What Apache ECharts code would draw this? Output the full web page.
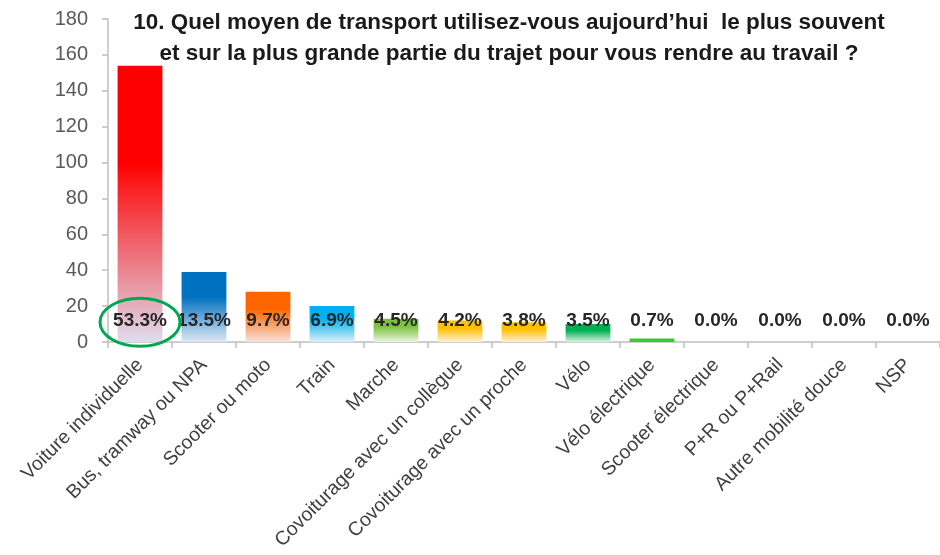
<!DOCTYPE html>
<html>
<head>
<meta charset="utf-8">
<script src="https://cdn.jsdelivr.net/npm/echarts@6/dist/echarts.min.js"></script>
<style>
  html, body { margin: 0; padding: 0; background: #fff; }
  #main { width: 940px; height: 555px; }
</style>
</head>
<body>
<div id="main"></div>
<script>
var categories = ['Voiture individuelle', 'Bus, tramway ou NPA', 'Scooter ou moto', 'Train', 'Marche',
  'Covoiturage avec un collègue', 'Covoiturage avec un proche', 'Vélo', 'Vélo électrique',
  'Scooter électrique', 'P+R ou P+Rail', 'Autre mobilité douce', 'NSP'];
var counts = [154, 39, 28, 20, 13, 12, 11, 10, 2, 0, 0, 0, 0];
var percentLabels = ['53.3%', '13.5%', '9.7%', '6.9%', '4.5%', '4.2%', '3.8%', '3.5%', '0.7%', '0.0%', '0.0%', '0.0%', '0.0%'];
var topColors = ['#ff0000', '#0070c0', '#ff6600', '#00b0f0', '#7cc242', '#ffc000', '#ffc000', '#00b050', '#33cc33', '#33cc33', '#33cc33', '#33cc33', '#33cc33'];
var bottomColors = ['#dedcee', '#dfe8f4', '#f4e2dc', '#dcf0f8', '#eef4e2', '#fdf0d8', '#fdf0d8', '#dcf0e4', '#33cc33', '#33cc33', '#33cc33', '#33cc33', '#33cc33'];
var yTicks = { min: 0, max: 180, interval: 20 };

var myChart = echarts.init(document.getElementById('main'));

var barData = counts.map(function (v, i) {
  return {
    value: v,
    itemStyle: {
      color: {
        type: 'linear', x: 0, y: 0, x2: 0, y2: 1,
        colorStops: [
          { offset: 0, color: topColors[i] },
          { offset: 0.35, color: topColors[i] },
          { offset: 1, color: bottomColors[i] }
        ]
      }
    }
  };
});

var option = {
  animation: false,
  title: {
    text: '10. Quel moyen de transport utilisez-vous aujourd\u2019hui  le plus souvent\net sur la plus grande partie du trajet pour vous rendre au travail ?',
    left: 504,
    top: 2,
    textAlign: 'center',
    textStyle: {
      fontFamily: 'Liberation Sans',
      fontSize: 22.5,
      fontWeight: 'bold',
      color: '#1a1a1a',
      lineHeight: 31
    }
  },
  grid: { left: 108, right: 0, top: 19, bottom: 213 },
  xAxis: {
    type: 'category',
    data: categories,
    axisLine: { lineStyle: { color: '#bfbfbf', width: 1.5 } },
    axisTick: { show: true, length: 6, lineStyle: { color: '#bfbfbf', width: 1.5 } },
    axisLabel: {
      rotate: 45,
      interval: 0,
      margin: 20,
      fontFamily: 'Liberation Sans',
      fontSize: 19.5,
      color: '#404040'
    }
  },
  yAxis: {
    type: 'value',
    min: yTicks.min,
    max: yTicks.max,
    interval: yTicks.interval,
    splitLine: { show: false },
    axisLine: { show: true, lineStyle: { color: '#bfbfbf', width: 1.5 } },
    axisTick: { show: true, length: 6, lineStyle: { color: '#bfbfbf', width: 1.5 } },
    axisLabel: {
      margin: 20,
      fontFamily: 'Liberation Sans',
      fontSize: 20,
      color: '#595959'
    }
  },
  series: [
    {
      name: 'Réponses',
      type: 'bar',
      barCategoryGap: '30%',
      data: barData,
      label: {
        show: true,
        position: 'insideBottom',
        distance: 12,
        fontFamily: 'Liberation Sans',
        fontSize: 19,
        fontWeight: 'bold',
        color: '#262626',
        formatter: function (p) { return percentLabels[p.dataIndex]; }
      }
    }
  ]
};

myChart.setOption(option);

// green ellipse around the first label
var c = myChart.convertToPixel({ gridIndex: 0 }, [0, 11]);
myChart.setOption({
  graphic: [{
    type: 'ellipse',
    shape: { cx: c[0], cy: c[1], rx: 40, ry: 24 },
    style: { fill: 'none', stroke: '#00a550', lineWidth: 3 },
    z: 100
  }]
});
</script>
</body>
</html>
